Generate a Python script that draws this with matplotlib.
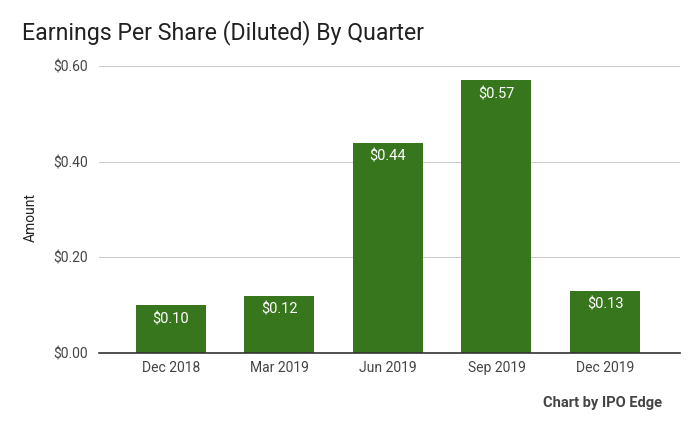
import matplotlib
matplotlib.use("Agg")
import matplotlib.pyplot as plt

plt.rcParams['font.family'] = ['Roboto', 'DejaVu Sans']

categories = ["Dec 2018", "Mar 2019", "Jun 2019", "Sep 2019", "Dec 2019"]
eps = [0.10, 0.12, 0.44, 0.57, 0.13]
yticks = [0.0, 0.2, 0.4, 0.6]
ytick_labels = ["$0.00", "$0.20", "$0.40", "$0.60"]

green = "#38761d"

fig = plt.figure(figsize=(7, 4.32), dpi=100)
ax = fig.add_axes([99/700, 1-353/432, 581/700, (353-66)/432])

x = list(range(len(categories)))
width = 0.645
bars = ax.bar(x, eps, width=width, color=green, zorder=3)

for xi, v in zip(x, eps):
    ax.annotate(f"${v:.2f}", (xi, v), xytext=(0, -5), textcoords="offset points",
                ha="center", va="top", color="white", fontsize=10.5, zorder=4)

ax.set_xlim(-0.66, 4.69)
ax.set_ylim(0, 0.6)
ax.set_yticks(yticks)
ax.set_yticklabels(ytick_labels)
ax.set_xticks(x)
ax.set_xticklabels(categories)
ax.tick_params(axis="both", length=0, labelsize=10, colors="#444444")
ax.tick_params(axis="y", pad=8)
ax.tick_params(axis="x", pad=6)
ax.grid(axis="y", color="#cccccc", linewidth=0.8, zorder=0)
for s in ["top", "right", "left"]:
    ax.spines[s].set_visible(False)
ax.spines["bottom"].set_color("#333333")
ax.spines["bottom"].set_linewidth(1.2)
ax.spines["bottom"].set_zorder(5)

ax.set_ylabel("Amount", fontsize=10, color="#222222")
ax.yaxis.set_label_coords((38 - 99) / 581, (353 - 217) / 287)

fig.text(22/700, 1-33/432, "Earnings Per Share (Diluted) By Quarter", fontsize=16.7,
         color="#212121", va="center", ha="left")
fig.text(662/700, 1-403/432, "Chart by IPO Edge", fontsize=10.5, fontweight="bold",
         color="#444444", ha="right", va="center")

fig.savefig("out.png", dpi=100)
